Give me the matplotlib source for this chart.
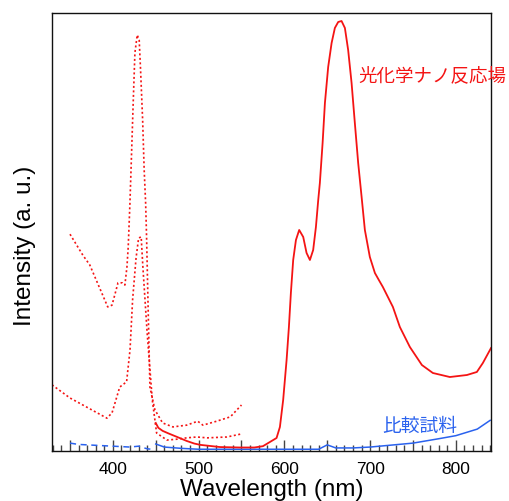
import matplotlib
matplotlib.use("Agg")
import matplotlib.pyplot as plt
from matplotlib.ticker import MultipleLocator, FuncFormatter

# ---- data (wavelength nm, intensity a.u. 0-100) ----
solid_red_x = [450, 453, 458, 465, 475, 486, 495, 502, 525, 548, 565, 575, 583.1, 590.9, 594.8,
               598.6, 602.6, 605.3, 607.6, 610.3, 613.5, 617.3, 622.0, 625.9, 629.8, 633.6, 636.8,
               639.5, 641.4, 644.6, 647.3, 651.1, 655.1, 658.9, 662.8, 666.7, 670.6, 674.4, 678.4,
               682.2, 686.1, 690.1, 693.9, 699.7, 705.6, 710.2, 714.9, 726.6, 734.7, 746.4, 760.4,
               773.2, 793.0, 812.9, 824.5, 831.5, 841]
solid_red_y = [6.4, 5.3, 4.6, 4.0, 3.2, 2.3, 1.7, 1.4, 0.9, 0.8, 0.8, 1.1, 2.05, 2.97, 5.48,
               11.64, 20.78, 28.31, 36.07, 43.61, 48.17, 50.46, 48.86, 45.21, 43.61, 45.89, 51.14,
               57.31, 61.19, 70.32, 79.45, 87.67, 93.15, 96.58, 97.95, 98.17, 96.58, 91.55, 84.02,
               74.89, 65.75, 57.99, 50.46, 44.29, 40.64, 39.04, 37.44, 32.88, 28.31, 23.74, 19.63,
               17.81, 16.89, 17.35, 18.04, 20.09, 23.5]

upper_dot_x = [350, 365, 373, 387, 394, 399, 406, 411, 414, 416.4, 417.9, 419.9, 421.8, 423.7,
               425.7, 428.4, 430.7, 432.3, 434.7, 436.5, 438.2, 439.3, 440.9, 443.2, 449, 458,
               470, 486, 499, 505, 521, 537, 550]
upper_dot_y = [49.5, 44.7, 42.5, 36.1, 32.9, 33.3, 38.4, 38.4, 37.9, 42.0, 46.6, 56.6, 68.0, 79.5,
               90.9, 95.0, 93.8, 87.0, 75.6, 64.2, 56.6, 48.9, 34.5, 14.6, 9.4, 6.4,
               5.5, 5.9, 6.8, 5.9, 6.8, 7.8, 10.5]

lower_dot_x = [329, 350, 365, 393, 399, 408, 416, 420, 423, 427, 430, 433, 435, 440, 446, 451,
               463, 475, 486, 498, 510, 533, 550]
lower_dot_y = [15.1, 12.1, 10.5, 7.5, 8.7, 14.6, 15.8, 23.1, 34.5, 44.0, 48.6, 48.9, 42.0, 26.9,
               11.6, 4.1, 2.5, 2.7, 3.0, 3.2, 3.0, 3.2, 3.9]

blue_solid_x = [450, 460, 480, 500, 550, 600, 640, 650, 660, 680, 700, 750, 780, 800, 825, 840]
blue_solid_y = [1.6, 0.9, 0.6, 0.4, 0.4, 0.4, 0.4, 1.4, 0.7, 0.7, 0.9, 1.8, 2.8, 3.5, 5.0, 7.0]

blue_dash_x = [350, 360, 380, 400, 420, 430, 440, 445]
blue_dash_y = [1.8, 1.5, 1.3, 1.1, 0.9, 1.1, 0.5, 0.4]

label_sample = "光化学ナノ反応場"
label_ref = "比較試料"

RED = "#f41414"
BLUE = "#2a62ee"
CJK = ["Noto Sans CJK JP", "DejaVu Sans"]

fig = plt.figure(figsize=(5.09, 5.01), dpi=100)
ax = fig.add_axes([52/509, 50/501, 439/509, 438/501])

ax.plot(blue_dash_x, blue_dash_y, color=BLUE, lw=1.1, ls=(0, (4, 3)))
ax.plot(blue_solid_x, blue_solid_y, color=BLUE, lw=1.1)
ax.plot(lower_dot_x, lower_dot_y, color=RED, lw=1.2, ls=(0, (1.2, 1.5)))
ax.plot(upper_dot_x, upper_dot_y, color=RED, lw=1.2, ls=(0, (1.2, 1.5)))
ax.plot(solid_red_x, solid_red_y, color=RED, lw=1.3)

ax.set_xlim(329, 841)
ax.set_ylim(0, 100)
ax.set_yticks([])

ax.xaxis.set_major_locator(MultipleLocator(50))
ax.xaxis.set_minor_locator(MultipleLocator(10))
ax.xaxis.set_major_formatter(FuncFormatter(lambda v, p: f"{int(v)}" if int(v) % 100 == 0 else ""))
ax.tick_params(axis="x", which="major", direction="in", length=8, width=1.0, color="#444444",
               labelsize=12.5, pad=8)
ax.tick_params(axis="x", which="minor", direction="in", length=4.5, width=1.0, color="#444444")
for lbl in ax.get_xticklabels():
    lbl.set_fontfamily("Liberation Sans")

for s in ax.spines.values():
    s.set_linewidth(1.0)
    s.set_color("#111111")

ax.set_xlabel("Wavelength (nm)", fontsize=17.5, family="Liberation Sans", va="top")
ax.xaxis.set_label_coords(0.5, -0.064)
ax.set_ylabel("Intensity (a. u.)", fontsize=17.5, family="Liberation Sans", va="center")
ax.yaxis.set_label_coords(-0.0615, 0.468)

ax.text(306/439, 0.856, label_sample, transform=ax.transAxes, color=RED, fontsize=13.3,
        family=CJK, ha="left", va="center", clip_on=False)
ax.text(330/439, 0.055, label_ref, transform=ax.transAxes, color=BLUE, fontsize=13.5,
        family=CJK, ha="left", va="center", clip_on=False)

fig.savefig("out.png", dpi=100)
